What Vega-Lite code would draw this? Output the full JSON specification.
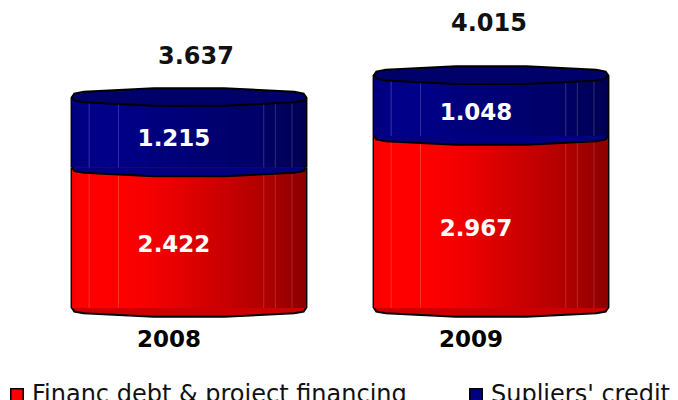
{
"$schema":"https://vega.github.io/schema/vega-lite/v6.json",
"width":676,"height":308,
"autosize":"none",
"padding":{"left":2,"top":0,"right":0,"bottom":92},
"background":"white",
"view":{"stroke":null},
"config":{"font":"DejaVu Sans"},
"data":{"values":[
{"year":"2008","series":"Financ debt & project financing","value":2.422},
{"year":"2008","series":"Supliers' credit","value":1.215},
{"year":"2009","series":"Financ debt & project financing","value":2.967},
{"year":"2009","series":"Supliers' credit","value":1.048}
]},
"transform":[{"stack":"value","groupby":["year"],"sort":[{"field":"series","order":"ascending"}],"as":["start","end"]}],
"encoding":{
"x":{"field":"year","type":"nominal","title":null,
"scale":{"paddingInner":0.225,"paddingOuter":0.2317},
"axis":{"ticks":false,"domain":false,"labelAngle":0,"labelFontSize":23,"labelFontWeight":"bold","labelColor":"#000000","labelPadding":20,"labelOffset":-20}},
"y":{"field":"end","type":"quantitative","title":null,"scale":{"domain":[0,5.31],"nice":false,"zero":false},"axis":null},
"y2":{"field":"start"}
},
"layer":[
{"mark":{"type":"bar"},"encoding":{"color":{"field":"series","type":"nominal","scale":{"domain":["Financ debt & project financing","Supliers' credit"],"range":["#ff0000","#000080"]},
"legend":{"title":null,"orient":"none","legendX":3,"legendY":383,"direction":"horizontal","columns":2,"columnPadding":57,"symbolType":"square","symbolSize":156,"symbolStrokeColor":"#000000","symbolStrokeWidth":1.5,"symbolOpacity":1,"labelFontSize":24,"labelColor":"#111111","labelOffset":3,"labelLimit":500}}}},
{"transform":[{"filter":"datum.series[0]==='F'"}],"mark":{"type":"point","shape":"M-1 0 L-.98 -.03 L-.9 -.045 L-.6 -.06 L-.3 -.075 L.3 -.075 L.6 -.06 L.9 -.045 L.98 -.03 L1 0 L.98 .03 L.9 .045 L.6 .06 L.3 .075 L-.3 .075 L-.6 .06 L-.9 .045 L-.98 .03 Z","size":54756,"opacity":1,"stroke":"#000000","strokeWidth":2,"fill":"#cc0000","filled":true},"encoding":{"y":{"field":"start","type":"quantitative"},"y2":null}},
{"mark":{"type":"bar","color":"#000000","width":{"band":1.012}}},
{"transform":[{"filter":"datum.series[0]==='F'"}],"mark":{"type":"bar","fill":{"x1":0,"y1":0,"x2":1,"y2":0,"gradient":"linear","stops":[{"offset":0,"color":"#f00000"},{"offset":0.04,"color":"#ff0000"},{"offset":0.07,"color":"#ff0000"},{"offset":0.073,"color":"#ff5050"},{"offset":0.076,"color":"#ff0000"},{"offset":0.197,"color":"#ff0000"},{"offset":0.2,"color":"#ff5050"},{"offset":0.203,"color":"#ff0000"},{"offset":0.35,"color":"#f40000"},{"offset":0.817,"color":"#b00000"},{"offset":0.82,"color":"#d04040"},{"offset":0.823,"color":"#b00000"},{"offset":0.865,"color":"#a80000"},{"offset":0.868,"color":"#c84040"},{"offset":0.871,"color":"#a80000"},{"offset":0.937,"color":"#980000"},{"offset":0.94,"color":"#b84040"},{"offset":0.943,"color":"#980000"},{"offset":1,"color":"#8b0000"}]}}},
{"transform":[{"filter":"datum.series[0]==='S'"}],"mark":{"type":"bar","fill":{"x1":0,"y1":0,"x2":1,"y2":0,"gradient":"linear","stops":[{"offset":0,"color":"#00007c"},{"offset":0.07,"color":"#000088"},{"offset":0.073,"color":"#5a5ab0"},{"offset":0.076,"color":"#000088"},{"offset":0.197,"color":"#000088"},{"offset":0.2,"color":"#5050a8"},{"offset":0.203,"color":"#000088"},{"offset":0.35,"color":"#00007e"},{"offset":0.817,"color":"#000066"},{"offset":0.82,"color":"#505090"},{"offset":0.823,"color":"#000066"},{"offset":0.865,"color":"#000060"},{"offset":0.868,"color":"#505088"},{"offset":0.871,"color":"#000060"},{"offset":0.937,"color":"#00005a"},{"offset":0.94,"color":"#505080"},{"offset":0.943,"color":"#00005a"},{"offset":1,"color":"#000050"}]}}},
{"transform":[{"filter":"datum.series[0]==='S'"}],"mark":{"type":"point","shape":"M-1 0 L-.98 .03 L-.9 .045 L-.6 .06 L-.3 .075 L.3 .075 L.6 .06 L.9 .045 L.98 .03 L1 0","size":54756,"opacity":1,"stroke":"#000000","strokeWidth":2,"fill":"#000080","filled":true},"encoding":{"y":{"field":"start","type":"quantitative"},"y2":null}},
{"transform":[{"filter":"datum.series[0]==='S'"}],"mark":{"type":"point","shape":"M-1 0 L-.98 -.03 L-.9 -.045 L-.6 -.06 L-.3 -.075 L.3 -.075 L.6 -.06 L.9 -.045 L.98 -.03 L1 0 L.98 .03 L.9 .045 L.6 .06 L.3 .075 L-.3 .075 L-.6 .06 L-.9 .045 L-.98 .03 Z","size":54756,"opacity":1,"stroke":"#000000","strokeWidth":2,"fill":"#00006a","filled":true},"encoding":{"y":{"field":"end","type":"quantitative"},"y2":null}},
{"transform":[{"calculate":"(datum.start+datum.end)/2","as":"mid"}],"mark":{"type":"text","color":"#ffffff","fontWeight":"bold","fontSize":23,"dx":-15,"dy":7},"encoding":{"y":{"field":"mid","type":"quantitative"},"y2":null,"text":{"field":"value","type":"quantitative","format":".3f"}}},
{"transform":[{"filter":"datum.series[0]==='S' && datum.year==='2008'"}],"mark":{"type":"text","color":"#111111","fontWeight":"bold","fontSize":24,"dx":7,"dy":-40},"encoding":{"y2":null,"text":{"field":"end","type":"quantitative","format":".3f"}}},
{"transform":[{"filter":"datum.series[0]==='S' && datum.year==='2009'"}],"mark":{"type":"text","color":"#111111","fontWeight":"bold","fontSize":24,"dx":-2,"dy":-51},"encoding":{"y2":null,"text":{"field":"end","type":"quantitative","format":".3f"}}}
]
}
